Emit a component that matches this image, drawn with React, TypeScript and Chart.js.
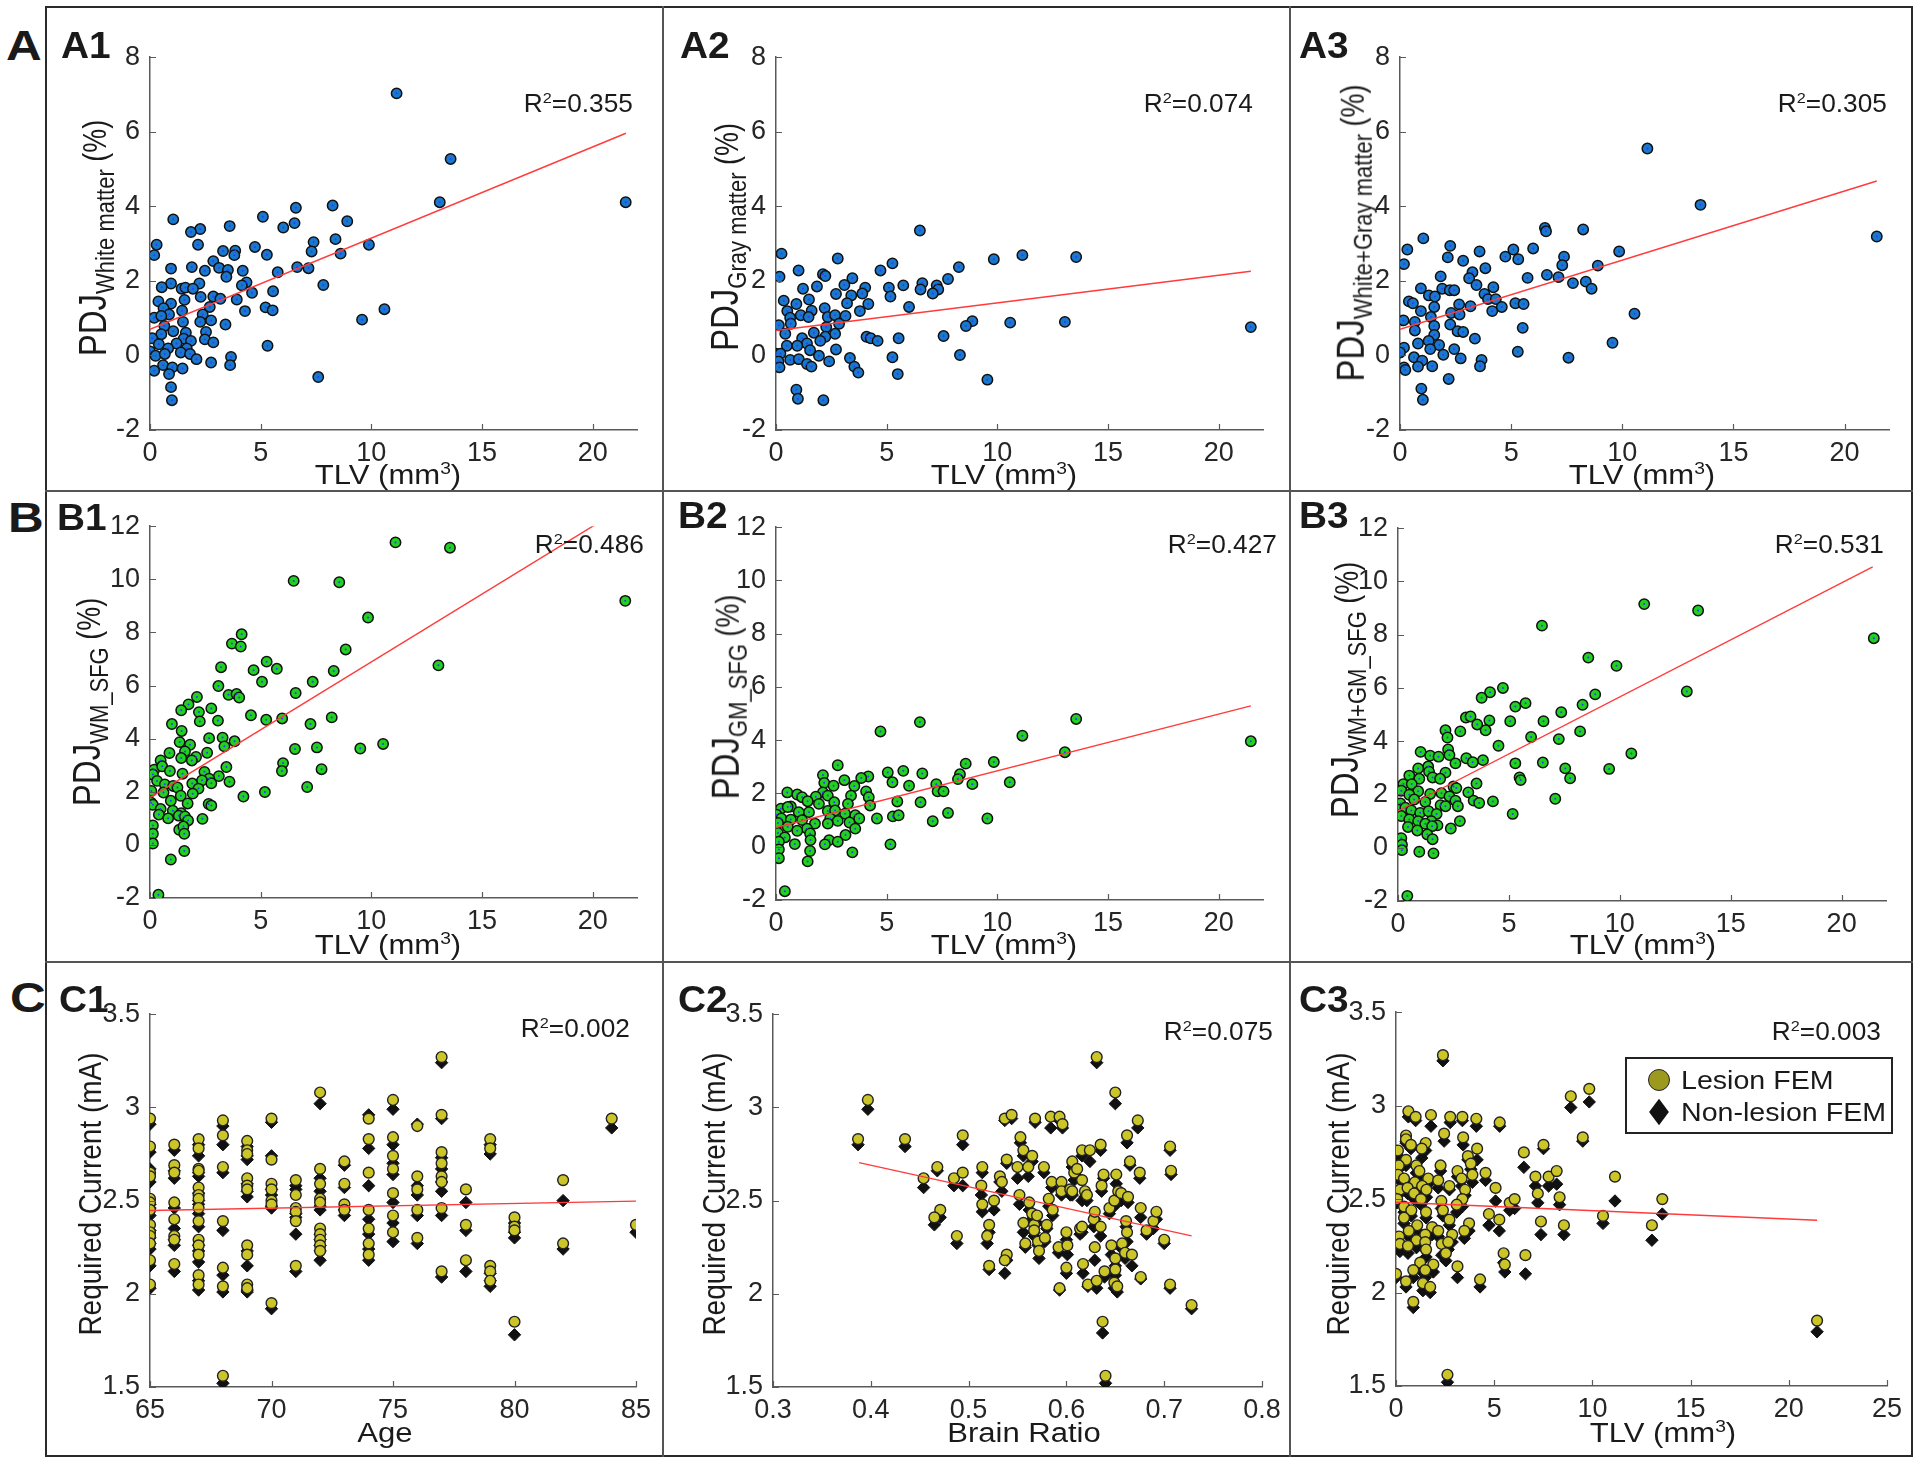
import React, { useEffect, useRef } from "react";
import { Chart, registerables } from "chart.js";
Chart.register(...registerables);

const FONT = '"Liberation Sans", Arial, Helvetica, sans-serif';
Chart.defaults.font.family = FONT;
const AXIS = "#5a5a5a";
const TICK = "#262626";
const INK = "#1a1a1a";
const BLUE = "#1a78cc";
const GREEN = "#22d022";
const YELLOW = "#cbc528";
const OLIVE = "#9c9a1e";
const FIT = "#ff3b3b";

// ---------- Row A : PDJ vs TLV ----------
const a1Points = [[11.14,7.03],[13.58,5.27],[13.09,4.11],[21.49,4.11],[8.25,4.02],[6.59,3.96],[5.10,3.72],[6.53,3.55],[6.02,3.43],[8.91,3.60],[3.60,3.47],[1.05,3.65],[2.27,3.39],[1.85,3.31],[0.30,2.97],[0.19,2.69],[2.17,2.97],[4.74,2.91],[5.28,2.70],[7.39,3.04],[7.30,2.79],[8.38,3.12],[8.61,2.73],[9.89,2.97],[3.30,2.80],[3.85,2.81],[3.81,2.69],[2.86,2.53],[3.12,2.35],[3.52,2.29],[3.45,2.11],[4.19,2.27],[2.48,2.27],[1.89,2.37],[0.95,2.33],[6.65,2.37],[7.16,2.34],[5.77,2.23],[7.83,1.89],[4.36,1.96],[4.15,1.88],[2.23,1.93],[0.95,1.93],[0.53,1.83],[1.43,1.79],[1.60,1.82],[1.94,1.79],[4.61,1.68],[5.56,1.72],[2.29,1.57],[2.86,1.58],[3.18,1.52],[3.92,1.50],[1.56,1.49],[0.38,1.45],[0.95,1.39],[5.22,1.29],[5.54,1.21],[4.29,1.19],[2.70,1.30],[1.45,1.20],[0.61,1.27],[0.19,1.01],[0.86,1.10],[0.51,1.06],[2.38,1.10],[10.59,1.24],[9.58,0.96],[2.27,0.90],[2.76,0.94],[1.49,0.90],[3.41,0.83],[0.65,0.79],[1.05,0.65],[1.62,0.61],[2.53,0.63],[0.51,0.57],[0.10,0.46],[2.48,0.43],[1.52,0.45],[1.85,0.39],[2.86,0.35],[1.20,0.32],[5.31,0.26],[0.40,0.30],[0.82,0.19],[1.66,0.19],[0.00,0.11],[0.25,-0.01],[0.67,0.04],[1.39,0.08],[1.81,0.04],[2.10,-0.10],[3.66,-0.04],[2.76,-0.19],[3.62,-0.26],[0.59,-0.26],[0.19,-0.41],[1.01,-0.32],[1.47,-0.35],[0.86,-0.50],[7.60,-0.58],[0.95,-0.85],[0.99,-1.20]];
const a2Points = [[6.50,3.35],[0.25,2.73],[2.79,2.60],[5.26,2.47],[4.72,2.28],[8.26,2.37],[9.84,2.58],[11.13,2.69],[13.56,2.64],[21.45,0.76],[0.16,2.11],[1.02,2.28],[2.12,2.18],[2.23,2.13],[3.45,2.07],[3.09,1.89],[1.85,1.85],[1.22,1.79],[4.03,1.82],[5.10,1.82],[5.75,1.88],[6.61,1.94],[6.53,1.77],[7.26,1.88],[7.33,1.77],[7.08,1.66],[7.77,2.05],[5.17,1.58],[2.71,1.65],[3.40,1.61],[3.90,1.66],[0.35,1.47],[1.49,1.50],[0.92,1.38],[3.21,1.40],[4.17,1.38],[6.01,1.30],[2.20,1.27],[1.61,1.20],[0.51,1.19],[3.79,1.19],[1.12,1.08],[0.64,1.01],[1.47,1.03],[2.34,1.03],[2.67,1.08],[3.14,1.06],[8.87,0.92],[8.58,0.79],[10.58,0.88],[13.05,0.90],[0.13,0.81],[0.67,0.85],[2.85,0.85],[2.27,0.76],[1.71,0.61],[0.42,0.58],[1.18,0.46],[2.67,0.58],[4.09,0.50],[4.28,0.46],[4.59,0.39],[2.23,0.50],[2.00,0.39],[1.40,0.32],[7.57,0.52],[5.54,0.46],[0.49,0.26],[0.96,0.26],[2.71,0.16],[1.54,0.14],[0.00,0.05],[0.20,0.05],[1.94,-0.01],[8.31,0.01],[0.64,-0.12],[1.03,-0.10],[3.34,-0.07],[5.26,-0.05],[2.40,-0.16],[0.11,-0.16],[1.40,-0.23],[3.54,-0.30],[1.60,-0.30],[0.16,-0.32],[3.72,-0.46],[5.50,-0.50],[9.55,-0.65],[0.92,-0.92],[0.99,-1.16],[2.14,-1.20]];
const a3Points = [[11.13,5.55],[13.52,4.04],[21.45,3.19],[6.52,3.42],[6.57,3.33],[8.24,3.38],[1.05,3.14],[0.33,2.84],[0.18,2.45],[2.26,2.94],[2.15,2.63],[2.84,2.54],[3.58,2.79],[3.84,2.34],[5.10,2.84],[4.74,2.65],[5.32,2.58],[5.99,2.87],[7.38,2.65],[7.30,2.42],[9.86,2.79],[8.90,2.41],[5.74,2.08],[6.61,2.16],[7.13,2.10],[7.78,1.94],[8.36,1.98],[8.62,1.79],[1.83,2.12],[3.26,2.23],[3.11,2.07],[3.44,1.89],[4.20,1.83],[0.94,1.80],[1.90,1.79],[2.24,1.75],[2.44,1.75],[3.80,1.65],[1.30,1.61],[1.57,1.58],[3.96,1.51],[4.31,1.51],[0.40,1.45],[0.58,1.40],[2.66,1.37],[3.17,1.32],[4.58,1.30],[5.19,1.40],[5.56,1.38],[1.54,1.30],[4.15,1.19],[0.94,1.19],[2.30,1.14],[2.68,1.10],[10.55,1.12],[0.16,0.94],[0.67,0.90],[1.39,1.03],[2.26,0.83],[1.54,0.79],[5.52,0.74],[0.67,0.67],[2.59,0.65],[2.84,0.63],[1.54,0.55],[3.37,0.45],[1.29,0.39],[1.76,0.28],[0.81,0.32],[9.56,0.34],[0.18,0.21],[1.36,0.17],[2.44,0.17],[0.00,0.08],[5.30,0.10],[1.95,0.02],[0.63,-0.05],[1.00,-0.14],[2.73,-0.08],[3.67,-0.12],[7.58,-0.06],[1.45,-0.29],[3.60,-0.29],[0.18,-0.32],[0.24,-0.39],[0.81,-0.30],[2.19,-0.63],[0.96,-0.89],[1.03,-1.19]];

// ---------- Row B : PDJ (SFG) vs TLV ----------
const b1Points = [[11.09,11.39],[13.55,11.19],[6.49,9.94],[8.55,9.89],[21.47,9.19],[9.85,8.56],[4.14,7.93],[3.70,7.58],[4.10,7.47],[8.84,7.36],[13.03,6.76],[3.21,6.69],[4.68,6.58],[5.27,6.90],[5.73,6.63],[8.30,6.55],[5.06,6.14],[7.35,6.14],[3.09,5.98],[3.55,5.65],[3.91,5.68],[4.03,5.55],[6.58,5.72],[2.12,5.57],[1.74,5.29],[1.41,5.07],[2.77,5.14],[2.21,5.00],[2.25,4.65],[3.07,4.68],[4.56,4.88],[5.25,4.71],[5.97,4.76],[8.21,4.80],[7.25,4.55],[0.99,4.55],[1.43,4.29],[2.67,4.02],[3.28,4.04],[3.82,3.90],[3.36,3.71],[1.34,3.87],[1.81,3.77],[6.55,3.61],[7.54,3.67],[9.50,3.63],[10.53,3.80],[0.88,3.46],[1.58,3.52],[2.58,3.47],[2.08,3.31],[1.41,3.27],[1.89,3.18],[0.48,3.18],[6.01,3.08],[3.45,2.93],[5.96,2.78],[7.75,2.85],[0.19,2.83],[0.55,2.96],[0.90,2.78],[1.47,2.68],[2.46,2.75],[0.13,2.65],[3.11,2.59],[0.32,2.41],[2.67,2.49],[2.35,2.43],[3.59,2.38],[0.67,2.28],[1.05,2.22],[1.91,2.31],[2.77,2.32],[1.24,2.16],[7.10,2.18],[0.06,2.03],[0.61,1.97],[2.19,2.12],[1.93,1.93],[5.19,1.99],[4.22,1.82],[1.39,1.85],[0.94,1.66],[1.70,1.56],[0.05,1.59],[0.13,1.51],[2.65,1.54],[2.77,1.48],[0.48,1.35],[1.03,1.29],[1.41,1.19],[0.40,1.14],[1.30,1.10],[1.58,1.07],[0.82,1.00],[2.37,0.98],[1.72,0.92],[1.32,0.57],[1.51,0.69],[0.13,0.73],[0.13,0.42],[1.55,0.42],[0.13,0.05],[1.55,-0.23],[0.94,-0.55],[0.38,-1.88]];
const b2Points = [[13.56,4.80],[6.50,4.68],[4.72,4.33],[11.13,4.17],[21.45,3.96],[13.05,3.55],[2.79,3.06],[8.57,3.12],[9.84,3.18],[5.75,2.85],[5.05,2.79],[6.61,2.75],[8.31,2.72],[2.12,2.69],[4.17,2.64],[3.85,2.58],[5.26,2.42],[3.09,2.50],[2.18,2.40],[7.24,2.35],[8.22,2.54],[8.87,2.35],[10.56,2.42],[2.60,2.29],[3.54,2.28],[6.01,2.29],[7.30,2.08],[7.57,2.08],[0.51,2.04],[0.96,1.96],[2.12,2.04],[4.07,2.08],[1.80,1.88],[3.39,1.92],[4.19,1.86],[2.34,1.92],[1.18,1.86],[1.43,1.71],[2.63,1.67],[5.48,1.70],[6.53,1.67],[3.25,1.61],[1.94,1.61],[0.67,1.51],[4.25,1.55],[0.22,1.43],[0.53,1.49],[2.34,1.34],[1.03,1.30],[1.49,1.30],[2.67,1.36],[0.03,1.20],[3.12,1.24],[3.58,1.18],[7.77,1.27],[5.28,1.14],[5.54,1.18],[0.24,1.06],[0.67,1.02],[1.18,1.00],[2.45,1.06],[2.79,0.97],[3.76,1.06],[4.56,1.06],[9.55,1.06],[7.08,0.96],[0.09,0.89],[1.76,0.87],[2.34,0.87],[3.32,0.91],[0.53,0.75],[1.40,0.68],[3.58,0.68],[0.96,0.60],[0.09,0.52],[1.54,0.50],[3.14,0.44],[0.40,0.35],[1.56,0.25],[2.40,0.25],[2.79,0.19],[0.13,0.19],[2.21,0.09],[5.17,0.09],[0.85,0.10],[0.13,-0.10],[1.54,-0.16],[3.45,-0.21],[0.13,-0.43],[1.43,-0.55],[0.40,-1.67]];
const b3Points = [[11.10,9.15],[13.53,8.91],[6.49,8.34],[21.45,7.87],[8.58,7.14],[9.85,6.83],[4.73,6.00],[13.02,5.87],[4.15,5.84],[3.77,5.63],[8.89,5.76],[5.75,5.43],[5.29,5.30],[8.32,5.37],[3.06,4.89],[3.27,4.93],[4.12,4.78],[3.57,4.63],[5.06,4.75],[6.56,4.75],[7.36,5.09],[3.95,4.41],[2.14,4.41],[2.81,4.37],[2.23,4.14],[6.00,4.16],[7.25,4.08],[8.21,4.37],[2.26,3.69],[4.53,3.83],[1.02,3.60],[1.45,3.46],[1.83,3.42],[2.32,3.48],[10.52,3.54],[3.08,3.36],[3.83,3.29],[3.37,3.21],[5.29,3.17],[6.53,3.20],[2.59,3.17],[1.36,3.05],[0.91,2.98],[7.54,2.98],[9.52,2.96],[1.40,2.86],[2.14,2.82],[0.51,2.71],[1.56,2.64],[0.96,2.59],[7.76,2.61],[5.48,2.64],[5.53,2.54],[1.90,2.59],[0.24,2.39],[0.62,2.39],[3.54,2.41],[2.50,2.30],[2.63,2.24],[0.91,2.12],[0.15,2.14],[1.96,2.05],[3.17,2.08],[1.45,2.02],[0.51,1.99],[2.32,1.93],[7.09,1.84],[0.73,1.81],[2.59,1.77],[3.41,1.77],[4.28,1.74],[3.66,1.68],[0.11,1.66],[1.23,1.72],[1.92,1.60],[2.14,1.56],[2.70,1.56],[0.02,1.43],[0.33,1.50],[0.60,1.40],[1.00,1.31],[1.38,1.37],[1.74,1.27],[0.15,1.19],[5.17,1.27],[0.51,1.06],[0.91,1.00],[1.50,1.00],[2.79,1.00],[1.23,0.90],[0.45,0.78],[1.78,0.84],[1.54,0.81],[2.38,0.72],[0.87,0.65],[1.32,0.50],[1.56,0.32],[0.15,0.36],[0.18,0.11],[0.18,-0.09],[0.96,-0.15],[1.60,-0.21],[0.42,-1.81]];

// ---------- Row C : Required current [x, lesion FEM, non-lesion FEM] ----------
const c1AgeCurrent = [[65,2.94,2.91],[65,2.79,2.76],[65,2.65,2.67],[65,2.63,2.60],[65,2.51,2.48],[65,2.49,2.46],[65,2.45,2.42],[65,2.37,2.34],[65,2.33,2.30],[65,2.31,2.27],[65,2.27,2.24],[65,2.18,2.15],[65,2.05,2.03],[66,2.80,2.77],[66,2.69,2.66],[66,2.65,2.62],[66,2.49,2.46],[66,2.40,2.35],[66,2.31,2.29],[66,2.29,2.26],[66,2.16,2.12],[67,2.83,2.80],[67,2.78,2.74],[67,2.67,2.65],[67,2.66,2.63],[67,2.57,2.54],[67,2.53,2.50],[67,2.51,2.48],[67,2.46,2.43],[67,2.39,2.36],[67,2.29,2.26],[67,2.26,2.23],[67,2.21,2.17],[67,2.10,2.07],[67,2.05,2.02],[68,2.93,2.90],[68,2.85,2.80],[68,2.68,2.65],[68,2.39,2.34],[68,2.14,2.10],[68,2.04,2.01],[68,1.56,1.52],[69,2.82,2.79],[69,2.77,2.74],[69,2.75,2.72],[69,2.62,2.59],[69,2.58,2.55],[69,2.56,2.52],[69,2.26,2.23],[69,2.21,2.15],[69,2.05,2.02],[69,2.03,2.01],[70,2.94,2.92],[70,2.72,2.74],[70,2.59,2.56],[70,2.56,2.53],[70,2.50,2.47],[70,2.48,2.46],[70,1.95,1.92],[71,2.61,2.58],[71,2.53,2.56],[71,2.46,2.43],[71,2.44,2.41],[71,2.39,2.32],[71,2.15,2.12],[72,3.08,3.02],[72,2.67,2.62],[72,2.59,2.55],[72,2.51,2.45],[72,2.49,2.47],[72,2.35,2.32],[72,2.32,2.29],[72,2.29,2.26],[72,2.26,2.23],[72,2.23,2.18],[73,2.71,2.69],[73,2.59,2.57],[73,2.48,2.45],[73,2.45,2.42],[74,2.94,2.96],[74,2.83,2.78],[74,2.65,2.58],[74,2.45,2.40],[74,2.35,2.32],[74,2.27,2.24],[74,2.21,2.18],[75,3.04,2.99],[75,2.84,2.80],[75,2.74,2.70],[75,2.67,2.64],[75,2.54,2.49],[75,2.42,2.38],[75,2.33,2.28],[76,2.90,2.91],[76,2.63,2.58],[76,2.56,2.53],[76,2.45,2.42],[76,2.30,2.27],[77,3.27,3.24],[77,2.96,2.94],[77,2.76,2.73],[77,2.70,2.67],[77,2.63,2.60],[77,2.60,2.55],[77,2.46,2.42],[77,2.12,2.09],[78,2.56,2.49],[78,2.37,2.34],[78,2.18,2.12],[79,2.83,2.80],[79,2.78,2.75],[79,2.15,2.11],[79,2.12,2.07],[79,2.07,2.04],[80,2.41,2.38],[80,2.36,2.33],[80,2.34,2.30],[80,1.85,1.78],[82,2.61,2.50],[82,2.27,2.24],[84,2.94,2.89],[85,2.37,2.33]];
const c2RatioCurrent = [[0.387,2.83,2.80],[0.397,3.04,2.99],[0.435,2.83,2.79],[0.454,2.62,2.57],[0.468,2.68,2.66],[0.471,2.45,2.41],[0.465,2.41,2.37],[0.485,2.62,2.58],[0.488,2.31,2.27],[0.494,2.85,2.80],[0.494,2.65,2.58],[0.513,2.58,2.53],[0.514,2.68,2.65],[0.514,2.48,2.44],[0.519,2.31,2.27],[0.521,2.37,2.33],[0.521,2.15,2.13],[0.526,2.50,2.45],[0.532,2.63,2.60],[0.534,2.60,2.55],[0.537,2.94,2.93],[0.539,2.72,2.70],[0.544,2.96,2.94],[0.539,2.21,2.18],[0.537,2.18,2.11],[0.550,2.68,2.62],[0.553,2.84,2.81],[0.552,2.53,2.48],[0.556,2.77,2.74],[0.556,2.38,2.33],[0.558,2.27,2.25],[0.561,2.68,2.63],[0.562,2.49,2.45],[0.565,2.74,2.71],[0.565,2.43,2.40],[0.567,2.37,2.33],[0.567,2.34,2.31],[0.568,2.94,2.92],[0.570,2.42,2.38],[0.571,2.28,2.26],[0.572,2.23,2.19],[0.577,2.68,2.65],[0.578,2.30,2.28],[0.580,2.37,2.35],[0.582,2.51,2.47],[0.584,2.95,2.89],[0.585,2.60,2.57],[0.586,2.45,2.42],[0.593,2.95,2.93],[0.595,2.60,2.56],[0.595,2.55,2.53],[0.596,2.91,2.89],[0.592,2.25,2.22],[0.593,2.03,2.02],[0.600,2.33,2.29],[0.601,2.26,2.21],[0.600,2.14,2.11],[0.604,2.56,2.53],[0.606,2.71,2.68],[0.606,2.55,2.53],[0.608,2.65,2.61],[0.611,2.67,2.63],[0.614,2.35,2.32],[0.616,2.36,2.33],[0.616,2.77,2.74],[0.616,2.61,2.50],[0.617,2.16,2.11],[0.619,2.55,2.52],[0.621,2.53,2.50],[0.622,2.05,2.04],[0.624,2.77,2.71],[0.628,2.40,2.36],[0.629,2.44,2.40],[0.629,2.25,2.18],[0.631,3.27,3.24],[0.631,2.07,2.03],[0.635,2.36,2.31],[0.635,2.80,2.77],[0.636,2.58,2.55],[0.637,1.85,1.79],[0.638,2.64,2.62],[0.639,2.12,2.09],[0.640,1.56,1.52],[0.644,2.46,2.43],[0.646,2.26,2.21],[0.649,2.50,2.47],[0.650,3.08,3.02],[0.651,2.64,2.59],[0.650,2.19,2.15],[0.649,2.06,2.03],[0.652,2.04,2.01],[0.650,2.13,2.10],[0.653,2.55,2.52],[0.656,2.54,2.50],[0.657,2.27,2.24],[0.660,2.22,2.19],[0.661,2.39,2.36],[0.662,2.33,2.28],[0.662,2.85,2.81],[0.663,2.52,2.49],[0.665,2.71,2.69],[0.667,2.21,2.15],[0.673,2.93,2.89],[0.675,2.65,2.62],[0.676,2.46,2.41],[0.676,2.09,2.08],[0.682,2.34,2.32],[0.689,2.39,2.35],[0.692,2.44,2.40],[0.700,2.29,2.27],[0.706,2.79,2.77],[0.707,2.66,2.64],[0.706,2.05,2.03],[0.728,1.94,1.92]];
const c3TlvCurrent = [[2.39,3.27,3.24],[0.63,2.97,2.94],[1.00,2.94,2.92],[1.78,2.95,2.89],[2.76,2.94,2.91],[3.38,2.94,2.92],[4.09,2.93,2.89],[5.28,2.91,2.89],[8.90,3.05,2.99],[9.84,3.09,3.02],[9.51,2.83,2.81],[0.51,2.84,2.81],[2.45,2.85,2.81],[3.42,2.83,2.79],[0.51,2.82,2.80],[1.51,2.80,2.76],[7.51,2.79,2.77],[0.76,2.79,2.77],[0.10,2.76,2.73],[1.31,2.77,2.72],[4.13,2.77,2.71],[6.51,2.75,2.67],[3.66,2.73,2.71],[0.51,2.71,2.68],[2.27,2.68,2.65],[0.14,2.68,2.66],[1.04,2.68,2.64],[3.81,2.69,2.66],[1.19,2.65,2.62],[4.56,2.64,2.60],[3.13,2.65,2.62],[7.10,2.62,2.57],[7.77,2.62,2.57],[8.18,2.65,2.58],[3.89,2.63,2.59],[0.10,2.63,2.61],[0.41,2.61,2.58],[1.64,2.61,2.58],[2.15,2.60,2.56],[3.34,2.61,2.57],[0.96,2.59,2.56],[2.72,2.57,2.55],[1.33,2.57,2.53],[0.20,2.55,2.53],[0.59,2.56,2.53],[1.55,2.55,2.51],[3.52,2.55,2.52],[5.07,2.56,2.49],[7.22,2.53,2.48],[8.33,2.51,2.47],[11.15,2.62,2.49],[0.92,2.53,2.50],[1.27,2.50,2.47],[0.06,2.50,2.48],[13.56,2.50,2.42],[3.38,2.50,2.46],[2.31,2.49,2.45],[5.79,2.48,2.44],[6.04,2.50,2.45],[0.41,2.46,2.43],[1.53,2.43,2.40],[0.78,2.44,2.41],[2.39,2.44,2.41],[3.09,2.47,2.43],[4.73,2.42,2.36],[0.41,2.40,2.37],[10.54,2.41,2.37],[5.26,2.39,2.33],[2.72,2.39,2.36],[7.38,2.38,2.31],[8.55,2.36,2.31],[13.03,2.36,2.28],[3.72,2.37,2.33],[1.08,2.36,2.33],[1.84,2.35,2.31],[2.15,2.33,2.30],[3.48,2.33,2.29],[0.65,2.33,2.30],[1.49,2.31,2.28],[2.86,2.31,2.27],[0.16,2.30,2.27],[1.04,2.28,2.24],[1.49,2.27,2.23],[2.33,2.26,2.20],[2.66,2.27,2.23],[0.20,2.26,2.22],[0.61,2.25,2.21],[5.48,2.21,2.16],[6.59,2.20,2.10],[1.53,2.23,2.19],[2.54,2.21,2.17],[1.23,2.16,2.12],[1.90,2.15,2.11],[5.54,2.15,2.11],[3.13,2.14,2.08],[0.88,2.12,2.08],[1.49,2.12,2.08],[0.00,2.10,2.08],[0.51,2.06,2.03],[1.37,2.05,2.01],[1.74,2.03,2.00],[4.28,2.07,2.03],[0.88,1.95,1.92],[21.44,1.85,1.79],[2.62,1.56,1.52]];

// ---------- regression lines (end points) ----------
const fitA1 = [[0, 0.70], [21.5, 5.96]];
const fitA2 = [[0, 0.67], [21.45, 2.26]];
const fitA3 = [[0, 0.70], [21.45, 4.68]];
const fitB1 = [[0, 1.78], [21.47, 12.75]];
const fitB2 = [[0, 0.72], [21.45, 5.29]];
const fitB3 = [[0, 1.38], [21.4, 10.55]];
const fitC1 = [[65, 2.447], [85, 2.497]];
const fitC2 = [[0.388, 2.704], [0.728, 2.311]];
const fitC3 = [[0, 2.483], [21.44, 2.387]];

const r2Values = ["0.355", "0.074", "0.305", "0.486", "0.427", "0.531", "0.002", "0.075", "0.003"];

type Panel = {
  id: string; L: number; T: number; R: number; B: number;
  x: [number, number, number]; y: [number, number, number];
  kind: "blue" | "green" | "yellow";
  pts: number[][]; fit: number[][];
  main: string; sub: string; unit: string;
  yl: [number, number]; xl: [number, number]; xTitle: string;
  r2: [number, number]; tag: [number, number];
};

const PANELS: Panel[] = [
  { id: "A1", L: 150, T: 53, R: 637, B: 430, x: [0, 22, 5], y: [-2, 8, 2], kind: "blue", pts: a1Points, fit: fitA1, main: "PDJ", sub: "White matter", unit: " (%)", yl: [92, 238], xl: [388, 485], xTitle: "TLV", r2: [633, 112], tag: [61, 58] },
  { id: "A2", L: 776, T: 53, R: 1263, B: 430, x: [0, 22, 5], y: [-2, 8, 2], kind: "blue", pts: a2Points, fit: fitA2, main: "PDJ", sub: "Gray matter", unit: " (%)", yl: [724, 237], xl: [1004, 485], xTitle: "TLV", r2: [1253, 112], tag: [680, 58] },
  { id: "A3", L: 1400, T: 53, R: 1889, B: 430, x: [0, 22, 5], y: [-2, 8, 2], kind: "blue", pts: a3Points, fit: fitA3, main: "PDJ", sub: "White+Gray matter", unit: " (%)", yl: [1350, 233], xl: [1642, 485], xTitle: "TLV", r2: [1887, 112], tag: [1299, 58] },
  { id: "B1", L: 150, T: 522, R: 637, B: 898, x: [0, 22, 5], y: [-2, 12, 2], kind: "green", pts: b1Points, fit: fitB1, main: "PDJ", sub: "WM_SFG", unit: " (%)", yl: [86, 702], xl: [388, 955], xTitle: "TLV", r2: [644, 553], tag: [57, 530] },
  { id: "B2", L: 776, T: 523, R: 1263, B: 900, x: [0, 22, 5], y: [-2, 12, 2], kind: "green", pts: b2Points, fit: fitB2, main: "PDJ", sub: "GM_SFG", unit: " (%)", yl: [725, 697], xl: [1004, 955], xTitle: "TLV", r2: [1277, 553], tag: [678, 528] },
  { id: "B3", L: 1398, T: 524, R: 1886, B: 901, x: [0, 22, 5], y: [-2, 12, 2], kind: "green", pts: b3Points, fit: fitB3, main: "PDJ", sub: "WM+GM_SFG", unit: " (%)", yl: [1344, 690], xl: [1643, 955], xTitle: "TLV", r2: [1884, 553], tag: [1299, 528] },
  { id: "C1", L: 150, T: 1010, R: 636, B: 1387, x: [65, 85, 5], y: [1.5, 3.5, 0.5], kind: "yellow", pts: c1AgeCurrent, fit: fitC1, main: "Required Current (mA)", sub: "", unit: "", yl: [91, 1194], xl: [385, 1443], xTitle: "Age", r2: [630, 1037], tag: [59, 1012] },
  { id: "C2", L: 773, T: 1010, R: 1262, B: 1387, x: [0.3, 0.8, 0.1], y: [1.5, 3.5, 0.5], kind: "yellow", pts: c2RatioCurrent, fit: fitC2, main: "Required Current (mA)", sub: "", unit: "", yl: [715, 1194], xl: [1024, 1443], xTitle: "Brain Ratio", r2: [1273, 1040], tag: [678, 1012] },
  { id: "C3", L: 1396, T: 1008, R: 1887, B: 1386, x: [0, 25, 5], y: [1.5, 3.5, 0.5], kind: "yellow", pts: c3TlvCurrent, fit: fitC3, main: "Required Current (mA)", sub: "", unit: "", yl: [1339, 1194], xl: [1663, 1443], xTitle: "TLV", r2: [1881, 1040], tag: [1299, 1012] },
];

const PAD = { l: 70, t: 22, r: 30, b: 50 };
const STRETCH = 1.15;

const inwardTicks = {
  id: "inwardTicks",
  afterDatasetsDraw(chart: any) {
    const { ctx, chartArea } = chart;
    const xs = chart.scales.x, ys = chart.scales.y;
    ctx.save();
    ctx.strokeStyle = AXIS;
    ctx.lineWidth = 1.2;
    ctx.beginPath();
    xs.ticks.forEach((t: any) => {
      const p = Math.round(xs.getPixelForValue(t.value)) + 0.5;
      ctx.moveTo(p, chartArea.bottom);
      ctx.lineTo(p, chartArea.bottom - 6);
    });
    ys.ticks.forEach((t: any) => {
      const p = Math.round(ys.getPixelForValue(t.value)) + 0.5;
      ctx.moveTo(chartArea.left, p);
      ctx.lineTo(chartArea.left + 6, p);
    });
    ctx.stroke();
    ctx.restore();
  },
};

const fmt = (v: any) => String(Math.round(Number(v) * 1000) / 1000);

function ChartPanel({ p }: { p: Panel }) {
  const ref = useRef<HTMLCanvasElement>(null);
  const w = p.R - p.L + PAD.l + PAD.r;
  const h = p.B - p.T + PAD.t + PAD.b;
  useEffect(() => {
    if (!ref.current) return;
    const fitData = p.fit.map((r) => ({ x: r[0], y: r[1] }));
    const datasets: any[] = [
      { label: "fit", data: fitData, showLine: true, borderColor: FIT, borderWidth: 1.4, pointRadius: 0, fill: false, order: 0 },
    ];
    if (p.kind === "yellow") {
      datasets.push({ label: "Lesion FEM", data: p.pts.map((r) => ({ x: r[0], y: r[1] })), pointRadius: 5.4, pointBackgroundColor: YELLOW, pointBorderColor: "#222", pointBorderWidth: 1.4, order: 1 });
      datasets.push({ label: "Non-lesion FEM", data: p.pts.map((r) => ({ x: r[0], y: r[2] })), pointStyle: "rectRot", pointRadius: 6.2, pointBackgroundColor: "#111", pointBorderColor: "#111", pointBorderWidth: 1, order: 2 });
    } else {
      const xy = p.pts.map((r) => ({ x: r[0], y: r[1] }));
      datasets.push({ label: "center", data: xy, pointRadius: 1, pointBackgroundColor: "#2a3cff", pointBorderWidth: 0, order: 1 });
      datasets.push({ label: "points", data: xy, pointRadius: 5.2, pointBackgroundColor: p.kind === "blue" ? BLUE : GREEN, pointBorderColor: "#111", pointBorderWidth: 1.5, order: 2 });
    }
    const axisCommon = (lim: [number, number, number], isX: boolean) => ({
      type: "linear",
      min: lim[0],
      max: lim[1],
      grid: { display: false, drawTicks: false },
      border: { display: true, color: AXIS, width: 1.5 },
      ticks: { stepSize: lim[2], includeBounds: false, autoSkip: false, maxRotation: 0, color: TICK, padding: isX ? 7 : 10, font: { size: 27, family: FONT }, callback: fmt },
      afterFit: (s: any) => { if (isX) s.height = PAD.b; else s.width = PAD.l; },
    });
    const chart = new Chart(ref.current, {
      type: "scatter",
      data: { datasets },
      options: {
        responsive: false,
        animation: false,
        events: [],
        layout: { padding: { left: 0, top: PAD.t, right: PAD.r, bottom: 0 } },
        plugins: { legend: { display: false }, tooltip: { enabled: false } },
        scales: { x: { ...axisCommon(p.x, true), position: "bottom" }, y: { ...axisCommon(p.y, false), position: "left" } },
      } as any,
      plugins: [inwardTicks],
    } as any);
    return () => chart.destroy();
  }, [p]);
  return <canvas ref={ref} width={w} height={h} style={{ position: "absolute", left: p.L - PAD.l, top: p.T - PAD.t, width: w, height: h }} />;
}

function Txt({ x, y, size, bold, align = "left", sx = STRETCH, children }: any) {
  const style: any = { position: "absolute", top: y - 0.8465 * size, fontSize: size, lineHeight: `${size}px`, fontWeight: bold ? 700 : 400, whiteSpace: "nowrap", color: INK, fontFamily: FONT };
  if (align === "left") { style.left = x; style.transform = `scaleX(${sx})`; style.transformOrigin = "left center"; }
  else if (align === "right") { style.right = 1920 - x; style.transform = `scaleX(${sx})`; style.transformOrigin = "right center"; }
  else { style.left = x; style.transform = `translateX(-50%) scaleX(${sx})`; style.transformOrigin = "center center"; }
  return <div style={style}>{children}</div>;
}

function YLabel({ p }: { p: Panel }) {
  const isC = p.kind === "yellow";
  return (
    <div style={{ position: "absolute", left: p.yl[0], top: p.yl[1], transform: `translate(-50%,-50%) rotate(-90deg) scaleY(${isC ? 1.12 : 1.2})`, whiteSpace: "nowrap", lineHeight: 1, color: INK, fontFamily: FONT }}>
      {isC ? (
        <span style={{ fontSize: 28 }}>{p.main}</span>
      ) : (
        <>
          <span style={{ fontSize: 33 }}>{p.main}</span>
          <span style={{ fontSize: 22, position: "relative", top: 7 }}>{p.sub}</span>
          <span style={{ fontSize: 27 }}>{p.unit}</span>
        </>
      )}
    </div>
  );
}

const sup = { fontSize: "0.62em", position: "relative" as const, top: "-0.6em", lineHeight: 0 };

export default function App() {
  return (
    <div style={{ position: "absolute", left: 0, top: 0, width: 1920, height: 1466, background: "#fff", overflow: "hidden", fontFamily: FONT }}>
      {/* panel frames */}
      <div style={{ position: "absolute", left: 45, top: 6, width: 1868, height: 1451, border: "2px solid #2a2a2a", boxSizing: "border-box" }} />
      <div style={{ position: "absolute", left: 662, top: 6, width: 2, height: 1451, background: "#555" }} />
      <div style={{ position: "absolute", left: 1289, top: 6, width: 2, height: 1451, background: "#555" }} />
      <div style={{ position: "absolute", left: 45, top: 490, width: 1868, height: 2, background: "#555" }} />
      <div style={{ position: "absolute", left: 45, top: 961, width: 1868, height: 2, background: "#555" }} />

      {PANELS.map((p) => <ChartPanel key={p.id} p={p} />)}

      {PANELS.map((p, i) => (
        <React.Fragment key={p.id + "-t"}>
          <YLabel p={p} />
          <Txt x={p.xl[0]} y={p.xl[1]} size={27} align="center">
            {p.xTitle === "TLV" ? (<>TLV (mm<span style={sup}>3</span>)</>) : p.xTitle}
          </Txt>
          <Txt x={p.r2[0]} y={p.r2[1]} size={25} align="right" sx={1.05}>R<span style={sup}>2</span>={r2Values[i]}</Txt>
          <Txt x={p.tag[0]} y={p.tag[1]} size={37} bold sx={1.05}>{p.id}</Txt>
        </React.Fragment>
      ))}

      <Txt x={6} y={60} size={43} bold>A</Txt>
      <Txt x={8} y={532} size={43} bold>B</Txt>
      <Txt x={10} y={1012} size={43} bold>C</Txt>

      {/* legend of C3 */}
      <div style={{ position: "absolute", left: 1625, top: 1057, width: 268, height: 77, border: "2px solid #222", boxSizing: "border-box", background: "#fff" }} />
      <div style={{ position: "absolute", left: 1648, top: 1069, width: 22, height: 22, borderRadius: "50%", background: OLIVE, border: "1.5px solid #222", boxSizing: "border-box" }} />
      <div style={{ position: "absolute", left: 1652, top: 1105, width: 14, height: 14, background: "#111", transform: "scaleY(1.35) rotate(45deg)" }} />
      <Txt x={1681} y={1089} size={26} sx={1.1}>Lesion FEM</Txt>
      <Txt x={1681} y={1121} size={26} sx={1.1}>Non-lesion FEM</Txt>
    </div>
  );
}
